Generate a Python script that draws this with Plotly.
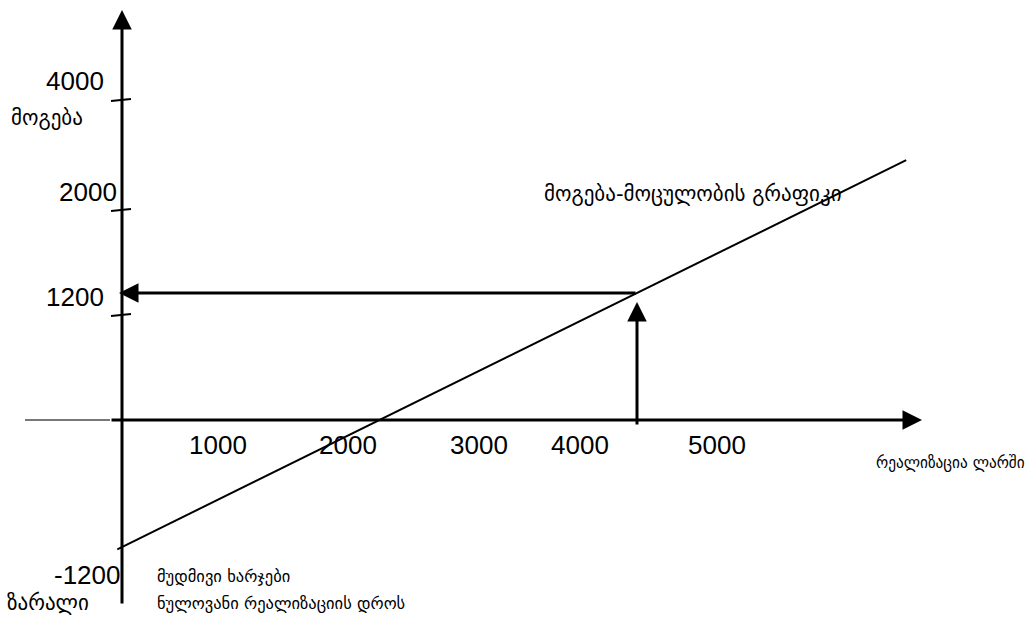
import plotly.graph_objects as go

# ---- data (profit-volume chart) ----
line_sales = [-40, 6700]          # sales (lari) at the line ends
line_profit = [-1222, 2455]       # profit at the line ends
target_sales = 4400
target_profit = 1200
fixed_cost = -1200

x_tick_labels = ["1000", "2000", "3000", "4000", "5000"]
y_tick_labels = ["4000", "2000", "1200", "-1200"]
y_tick_marks = [3024, 1984, 992]

title_profit = "მოგება"
title_loss = "ზარალი"
title_sales = "რეალიზაცია ლარში"
title_graph = "მოგება-მოცულობის გრაფიკი"
note_line1 = "მუდმივი ხარჯები"
note_line2 = "ნულოვანი რეალიზაციის დროს"

# ---- layout geometry ----
W, H = 1028, 622
KX = 4400 / 515.0   # data units per pixel (x)
KY = 1200 / 127.0   # data units per pixel (y)
X_RANGE = [-122 * KX, (W - 122) * KX]
Y_RANGE = [-(H - 420) * KY, 420 * KY]

def px(x):
    return x / W

def py(y):
    return 1 - y / H

NUM_FONT = dict(family="Liberation Sans, Arial", size=26, color="black")
GEO_FONT = dict(family="DejaVu Sans", size=21, color="black")
GEO_SALES = dict(family="DejaVu Sans Condensed, DejaVu Sans", size=17, color="black")
GEO_SMALL = dict(family="DejaVu Sans", size=16.5, color="black")

fig = go.Figure()

# main profit line
fig.add_trace(go.Scatter(x=line_sales, y=line_profit, mode="lines",
                         line=dict(color="black", width=2),
                         hoverinfo="skip", showlegend=False))

annotations = []
shapes = []

def arrow(x0, y0, x1, y1, width=3):
    annotations.append(dict(x=x1, y=y1, ax=x0, ay=y0, xref="x", yref="y",
                            axref="x", ayref="y", text="", showarrow=True,
                            arrowhead=2, arrowsize=1.3, arrowwidth=width,
                            arrowcolor="black", standoff=0, startstandoff=0))

# axes
shapes.append(dict(type="line", xref="x", yref="y", x0=-97 * KX, x1=-12 * KX,
                   y0=0, y1=0, line=dict(color="#777777", width=2)))
arrow(-12 * KX, 0, 800 * KX, 0)
arrow(0, -185 * KY, 0, 410 * KY)

# ticks on y axis
for t in y_tick_marks:
    shapes.append(dict(type="line", xref="x", yref="y", x0=-11 * KX, x1=9 * KX,
                       y0=t - 1 * KY, y1=t + 1 * KY,
                       line=dict(color="black", width=2)))

# vertical and horizontal arrows to the target point
arrow(target_sales, -6 * KY, target_sales, target_profit - 9 * KY)
arrow(target_sales, target_profit, -3 * KX, target_profit)

# x tick labels
x_label_px = [218, 348, 479, 580, 717]
for lab, xp in zip(x_tick_labels, x_label_px):
    annotations.append(dict(x=px(xp), y=py(445), xref="paper", yref="paper",
                            text=lab, showarrow=False, font=NUM_FONT,
                            xanchor="center", yanchor="middle"))

# y tick labels
y_label_pos = [(106, 81), (119, 192), (106, 297), (123, 575)]
for lab, (xp, yp) in zip(y_tick_labels, y_label_pos):
    annotations.append(dict(x=px(xp), y=py(yp), xref="paper", yref="paper",
                            text=lab, showarrow=False, font=NUM_FONT,
                            xanchor="right", yanchor="middle"))

texts = [
    (title_profit, 9, 118, GEO_FONT, "left"),
    (title_loss, 5, 603, GEO_FONT, "left"),
    (title_graph, 542, 194, GEO_FONT, "left"),
    (title_sales, 1027, 462, GEO_SALES, "right"),
    (note_line1, 155, 576, GEO_SMALL, "left"),
    (note_line2, 155, 603, GEO_SMALL, "left"),
]
for t, xp, yp, f, anc in texts:
    annotations.append(dict(x=px(xp), y=py(yp), xref="paper", yref="paper",
                            text=t, showarrow=False, font=f,
                            xanchor=anc, yanchor="middle"))

fig.update_layout(
    width=W, height=H,
    margin=dict(l=0, r=0, t=0, b=0),
    paper_bgcolor="white", plot_bgcolor="white",
    xaxis=dict(range=X_RANGE, visible=False, fixedrange=True),
    yaxis=dict(range=Y_RANGE, visible=False, fixedrange=True),
    annotations=annotations, shapes=shapes, showlegend=False,
)

fig.write_html("out.html", config={"displayModeBar": False},
               post_script="document.body.style.margin='0';document.body.style.overflow='hidden';")
